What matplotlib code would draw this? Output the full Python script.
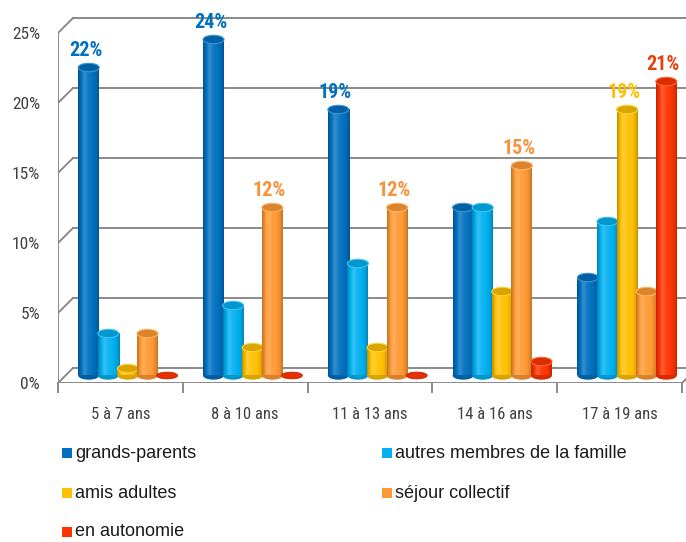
import numpy as np
import matplotlib
matplotlib.use("Agg")
import matplotlib.pyplot as plt
from matplotlib.patches import Ellipse, Rectangle
from matplotlib.colors import to_rgb
from matplotlib import font_manager

# Data (percent)
categories = ['5 à 7 ans', '8 à 10 ans', '11 à 13 ans', '14 à 16 ans', '17 à 19 ans']
series_names = ['grands-parents', 'autres membres de la famille', 'amis adultes',
                'séjour collectif', 'en autonomie']
grands_parents = [22, 24, 19, 12, 7]
autres_famille = [3, 5, 8, 12, 11]
amis_adultes = [0.5, 2, 2, 6, 19]
sejour_collectif = [3, 12, 12, 15, 6]
en_autonomie = [0, 0, 0, 1, 21]
series_values = [grands_parents, autres_famille, amis_adultes, sejour_collectif, en_autonomie]
y_ticks = [0, 5, 10, 15, 20, 25]
# (series, category) pairs that carry a value label
labelled = [(0, 0), (0, 1), (3, 1), (0, 2), (3, 2), (3, 3), (2, 4), (4, 4)]

colors = ['#0070C0', '#00B0F0', '#FFC000', '#FF9933', '#FF3300']
label_colors = ['#0070C0', '#00B0F0', '#FFC000', '#F7923A', '#E8400C']
grid_col = '#8A8A8A'

# pick a condensed face if one is installed
installed = {f.name for f in font_manager.fontManager.ttflist}
narrow_name = next((n for n in ['Liberation Sans Narrow', 'Roboto Condensed',
                                'Open Sans Condensed', 'DejaVu Sans Condensed']
                    if n in installed), 'Liberation Sans')
is_narrow = narrow_name != 'Liberation Sans'
narrow = [narrow_name, 'DejaVu Sans']
plt.rcParams['font.family'] = ['Liberation Sans', 'DejaVu Sans']

W, H = 686, 542
fig = plt.figure(figsize=(W / 100, H / 100), dpi=100)

# front axis: x 58..682 px, y 0% at 383 px, 14 px per percent
x0_px, y0_px, cat_px, pct_px = 58, 383, 124.8, 14.0
ax = fig.add_axes([x0_px / W, (H - y0_px) / H, (W - x0_px) / W, y0_px / H])
xmax = (W - x0_px) / cat_px
ymax = y0_px / pct_px
dx = 15 / cat_px      # depth offset of the back wall
dy = 15 / pct_px

# back wall and left wall grid
lw = 1.4
for v in y_ticks:
    ax.plot([dx, xmax], [v + dy, v + dy], color=grid_col, lw=lw, zorder=1)
    ax.plot([0, dx], [v, v + dy], color=grid_col, lw=lw, zorder=1)
ax.plot([0, 0], [0, y_ticks[-1]], color=grid_col, lw=lw, zorder=1)
ax.plot([0, len(categories)], [0, 0], color=grid_col, lw=lw, zorder=1)
ax.plot([len(categories), len(categories) + dx], [0, dy], color=grid_col, lw=lw, zorder=1)
for i in range(len(categories) + 1):
    ax.plot([i, i], [0, -0.65], color=grid_col, lw=lw, clip_on=False, zorder=1)


def shade(base, t):
    f = 0.72 + 0.33 * np.sin(np.pi * t) ** 0.6 + 0.18 * np.exp(-((t - 0.3) / 0.13) ** 2)
    out = []
    for k in f:
        if k <= 1:
            out.append(base * k)
        else:
            out.append(base + (1 - base) * (k - 1))
    return np.clip(np.array(out), 0, 1)


bar_w = 21 / cat_px
step = 19.6 / cat_px
ell_h = 0.6
t = np.linspace(0, 1, 80)
z = 2
for i in range(len(categories)):
    for j, vals in enumerate(series_values):
        v = vals[i]
        base = np.array(to_rgb(colors[j]))
        xc = i + 0.5 + dx / 2 + (j - 2) * step
        bottom = dy / 2
        top = v + dy / 2
        if v <= 0:
            ax.add_patch(Ellipse((xc, bottom), bar_w, ell_h * 0.8,
                                 facecolor=base * 0.9, edgecolor=base * 0.75, lw=0.6, zorder=z))
            z += 1
            continue
        grad = shade(base, t)[None, :, :]
        ax.add_patch(Ellipse((xc, bottom), bar_w, ell_h,
                             facecolor=tuple(base * 0.85), edgecolor='none', zorder=z))
        ax.imshow(grad, extent=(xc - bar_w / 2, xc + bar_w / 2, bottom, top),
                  aspect='auto', interpolation='bilinear', zorder=z + 0.1)
        ax.add_patch(Ellipse((xc, top), bar_w, ell_h,
                             facecolor=tuple(base * 0.86),
                             edgecolor=tuple(base + (1 - base) * 0.25), lw=0.8, zorder=z + 0.2))
        z += 1
        if (j, i) in labelled:
            ax.text(xc - 0.025, top + 1.25, f'{v:g}%', ha='center', va='center',
                    color=label_colors[j], fontsize=14.5 if is_narrow else 13,
                    fontweight='bold', family=narrow, zorder=50)

ax.set_xlim(0, xmax)
ax.set_ylim(0, ymax)
for s in ax.spines.values():
    s.set_visible(False)
ax.set_xticks([i + 0.5 for i in range(len(categories))])
ax.set_xticklabels(categories, family=narrow, fontsize=12 if is_narrow else 10.5,
                   color='#404040')
ax.set_yticks(y_ticks)
ax.set_yticklabels([f'{v}%' for v in y_ticks], family=narrow,
                   fontsize=12.5 if is_narrow else 11.5, color='#404040')
ax.tick_params(axis='x', length=0, pad=17)
ax.tick_params(axis='y', length=0, pad=13)

# legend laid out in two columns, row by row
leg_x = [62, 382]
leg_y = [453, 493, 532]
for k, name in enumerate(series_names):
    col, row = k % 2, k // 2
    px, py = leg_x[col], leg_y[row]
    fig.patches.append(Rectangle((px / W, 1 - (py + 5) / H), 10 / W, 10 / H,
                                 transform=fig.transFigure, facecolor=colors[k],
                                 edgecolor='none'))
    fig.text((px + 13) / W, 1 - py / H, name, ha='left', va='center',
             fontsize=13, color='#1a1a1a')

fig.savefig('out.png', dpi=100)
